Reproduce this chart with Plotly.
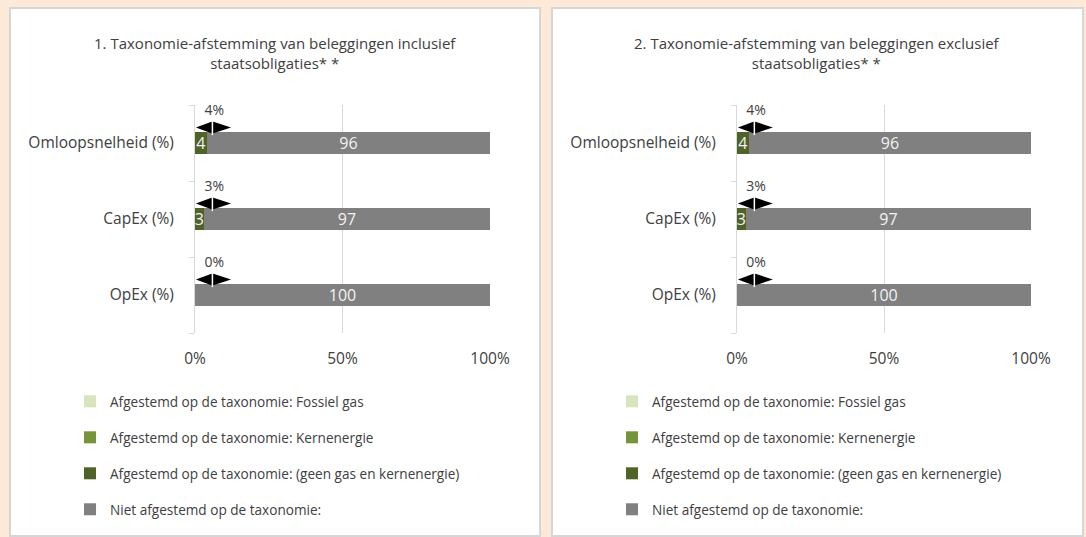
import plotly.graph_objects as go

# ---------------- data ----------------
categories = ["Omloopsnelheid (%)", "CapEx (%)", "OpEx (%)"]
series_names = [
    "Afgestemd op de taxonomie: Fossiel gas",
    "Afgestemd op de taxonomie: Kernenergie",
    "Afgestemd op de taxonomie: (geen gas en kernenergie)",
    "Niet afgestemd op de taxonomie:",
]
series_colors = ["#d7e4bd", "#77933c", "#4f6228", "#808080"]

incl_fossiel = [0, 0, 0]
incl_kern = [0, 0, 0]
incl_geen = [4, 3, 0]
incl_niet = [96, 97, 100]
incl_aligned = [4, 3, 0]

excl_fossiel = [0, 0, 0]
excl_kern = [0, 0, 0]
excl_geen = [4, 3, 0]
excl_niet = [96, 97, 100]
excl_aligned = [4, 3, 0]

titles = [
    "1. Taxonomie-afstemming van beleggingen inclusief<br>staatsobligaties* *",
    "2. Taxonomie-afstemming van beleggingen exclusief<br>staatsobligaties* *",
]
x_tickvals = [0, 50, 100]
x_ticktext = ["0%", "50%", "100%"]

# ---------------- styling ----------------
W, H = 1086, 537
FONT = "Open Sans"
TXT = "#404040"
GRID = "#d9d9d9"
BG = "#fce9d7"

def px_x(p):
    return p / W

def px_y(p):
    return 1 - p / H

ypos = [len(categories) - 1 - i for i in range(len(categories))]

panels = [
    dict(series=[incl_fossiel, incl_kern, incl_geen, incl_niet], aligned=incl_aligned,
         xa="x", ya="y", legend="legend",
         xdom=[px_x(195), px_x(490)], box=(10, 540), title_x=px_x(275), leg_x=px_x(70)),
    dict(series=[excl_fossiel, excl_kern, excl_geen, excl_niet], aligned=excl_aligned,
         xa="x2", ya="y2", legend="legend2",
         xdom=[px_x(737), px_x(1031)], box=(552, 1083), title_x=px_x(817), leg_x=px_x(612)),
]
ydom = [px_y(333), px_y(105)]

fig = go.Figure()
shapes = []
annotations = []

for k, p in enumerate(panels):
    # white panel card
    shapes.append(dict(type="rect", xref="paper", yref="paper",
                       x0=px_x(p["box"][0]), x1=px_x(p["box"][1]), y0=px_y(536), y1=px_y(8),
                       fillcolor="white", line=dict(color="#d6d6d6", width=2), layer="below"))
    for name, color, vals in zip(series_names, series_colors, p["series"]):
        fig.add_trace(go.Bar(
            x=vals, y=ypos, orientation="h", name=name,
            marker=dict(color=color, line=dict(width=0)),
            width=0.29,
            text=[str(v) if v else "" for v in vals],
            textposition="inside", insidetextanchor="middle", textangle=0,
            constraintext="none",
            textfont=dict(color="#f2f2f2", size=16, family=FONT),
            xaxis=p["xa"], yaxis=p["ya"], legend=p["legend"], legendgroup=p["legend"] + name,
            hoverinfo="skip",
        ))
    # aligned-total labels
    fig.add_trace(go.Scatter(
        x=[6.5] * len(categories), y=[y + 0.42 for y in ypos], mode="text",
        text=[f"{v}%" for v in p["aligned"]],
        textfont=dict(color=TXT, size=14, family=FONT),
        xaxis=p["xa"], yaxis=p["ya"], showlegend=False, hoverinfo="skip",
    ))
    # double arrow callouts
    for y in ypos:
        yc = y + 0.204
        h = 0.078
        shapes.append(dict(type="path", xref=p["xa"], yref=p["ya"],
                           path=f"M 0.3,{yc} L 5.8,{yc + h} L 5.8,{yc - h} Z",
                           fillcolor="black", line=dict(width=0)))
        shapes.append(dict(type="path", xref=p["xa"], yref=p["ya"],
                           path=f"M 12.2,{yc} L 6.0,{yc + h} L 6.0,{yc - h} Z",
                           fillcolor="black", line=dict(width=0)))
        shapes.append(dict(type="line", xref=p["xa"], yref=p["ya"],
                           x0=5.9, x1=5.9, y0=yc - 0.1, y1=yc + 0.1,
                           line=dict(color="white", width=1.5)))
    annotations.append(dict(text=titles[k], xref="paper", yref="paper",
                            x=p["title_x"], y=px_y(53), xanchor="center", yanchor="middle",
                            showarrow=False, font=dict(size=15, color=TXT, family=FONT)))

axis_common_x = dict(range=[0, 100], tickvals=x_tickvals, ticktext=x_ticktext,
                     showgrid=True, gridcolor=GRID, gridwidth=1, zeroline=False,
                     showline=False, ticks="outside", ticklen=11, tickcolor="rgba(0,0,0,0)",
                     automargin=False,
                     tickfont=dict(size=15.5, color=TXT, family=FONT), fixedrange=True)
axis_common_y = dict(range=[-0.5, 2.5], tickvals=ypos, ticktext=categories,
                     showgrid=False, zeroline=False, showline=True, linecolor=GRID, linewidth=1,
                     ticks="", ticklabelstandoff=17, automargin=False,
                     minor=dict(tickvals=[-0.5, 0.5, 1.5, 2.5], ticks="outside", ticklen=5,
                                tickcolor=GRID, tickwidth=1, showgrid=False),
                     tickfont=dict(size=15.5, color=TXT, family=FONT), fixedrange=True)

legend_common = dict(orientation="v", xanchor="left", yanchor="top", y=px_y(386),
                     bgcolor="rgba(0,0,0,0)", borderwidth=0, traceorder="grouped",
                     tracegroupgap=15.3, font=dict(size=13.6, color=TXT, family=FONT))

fig.update_layout(
    width=W, height=H, autosize=False,
    margin=dict(l=0, r=0, t=0, b=0, pad=0, autoexpand=False),
    paper_bgcolor=BG, plot_bgcolor="rgba(0,0,0,0)",
    barmode="stack",
    font=dict(family=FONT, color=TXT),
    xaxis=dict(domain=panels[0]["xdom"], anchor="y", **axis_common_x),
    yaxis=dict(domain=ydom, anchor="x", **axis_common_y),
    xaxis2=dict(domain=panels[1]["xdom"], anchor="y2", **axis_common_x),
    yaxis2=dict(domain=ydom, anchor="x2", **axis_common_y),
    legend=dict(x=panels[0]["leg_x"], **legend_common),
    legend2=dict(x=panels[1]["leg_x"], **legend_common),
    shapes=shapes,
    annotations=annotations,
    showlegend=True,
)

fig.write_html(
    "out.html",
    config={"displayModeBar": False},
    post_script="document.body.style.margin='0';"
                "document.body.style.overflow='hidden';"
                "document.documentElement.style.overflow='hidden';",
)
